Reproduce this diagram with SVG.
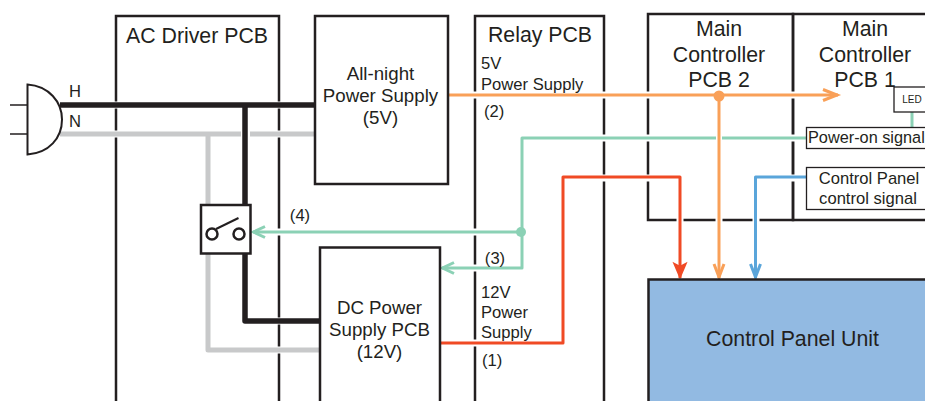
<svg xmlns="http://www.w3.org/2000/svg" width="925" height="401" viewBox="0 0 925 401">
<style>
text{font-family:"Liberation Sans",Arial,sans-serif;fill:#231f20;text-anchor:middle}
.t20{font-size:21.300px}.t18{font-size:18.700px}.t16{font-size:16.600px}
.s{text-anchor:start}
.pcb{fill:none;stroke:#231f20;stroke-width:2.500}
.box{fill:#fff;stroke:#231f20;stroke-width:2.500}
.thin{fill:#fff;stroke:#231f20;stroke-width:1.300}
.l{fill:none;stroke-linejoin:round}
.halo{fill:none;stroke:#fff;stroke-width:7}
</style>
<defs>
<marker id="ag" markerUnits="userSpaceOnUse" markerWidth="16" markerHeight="16" refX="13" refY="8" orient="auto" overflow="visible"><path d="M1 2.500L12.500 8L1 13.500" fill="none" stroke="#8bd1b5" stroke-width="3"/></marker>
<marker id="ao" markerUnits="userSpaceOnUse" markerWidth="20" markerHeight="16" refX="16" refY="8" orient="auto" overflow="visible"><path d="M1 2.500L15 8L1 13.500" fill="none" stroke="#f9a058" stroke-width="3"/></marker>
<marker id="ar" markerUnits="userSpaceOnUse" markerWidth="20" markerHeight="16" refX="15" refY="8" orient="auto" overflow="visible"><path d="M1 2.500L14 8L1 13.500L4 8Z" fill="#f04a25" stroke="#f04a25" stroke-width="2"/></marker>
<marker id="ao2" markerUnits="userSpaceOnUse" markerWidth="20" markerHeight="16" refX="15" refY="8" orient="auto" overflow="visible"><path d="M1 3L14 8L1 13" fill="none" stroke="#f9a058" stroke-width="3"/></marker>
<marker id="ab" markerUnits="userSpaceOnUse" markerWidth="20" markerHeight="16" refX="15" refY="8" orient="auto" overflow="visible"><path d="M1 3L14 8L1 13" fill="none" stroke="#5aa5da" stroke-width="3"/></marker>
</defs>

<g id="ac-driver-pcb"><path class="pcb" d="M116 401V16H279V401"/><text class="t20" x="197" y="43">AC Driver PCB</text></g>
<g id="relay-pcb"><path class="pcb" d="M475 401V16H604V401"/><text class="t20" x="540" y="42">Relay PCB</text></g>
<g id="main-controller-pcb-2"><rect class="pcb" x="648" y="14" width="145" height="206"/><text class="t20" x="719" y="36">Main</text><text class="t20" x="719" y="62">Controller</text><text class="t20" x="719" y="87">PCB 2</text></g>
<g id="main-controller-pcb-1"><path class="pcb" d="M925 14H793V220H925"/><text class="t20" x="865" y="36">Main</text><text class="t20" x="865" y="62">Controller</text><text class="t20" x="865" y="87">PCB 1</text></g>

<g id="connectors">
<path class="halo" d="M60 105H315M60 134H241M251 134H315M245 105V205M245 254V321H320M208 254V350H320"/>
<path class="l" stroke="#c8c9ca" stroke-width="5" d="M60 134H241M250 134H315"/>
<path class="l" stroke="#c8c9ca" stroke-width="5" d="M208 134V350H320"/>
<path class="l" stroke="#231f20" stroke-width="5.500" d="M60 105H315"/>
<path class="l" stroke="#231f20" stroke-width="5.500" d="M245 105V321H320"/>

<path class="halo" d="M448 95H830M719 96V270M807 138H725M713 138H522V268H445M521 232H252M441 343H563V178H680V270M807 178H756V270"/>
<path class="l" stroke="#8bd1b5" stroke-width="3" d="M912 112V127"/>
<path class="l" stroke="#8bd1b5" stroke-width="3" d="M807 138H522V268H442" marker-end="url(#ag)"/>
<path class="l" stroke="#8bd1b5" stroke-width="3" d="M522 232H253" marker-end="url(#ag)"/>
<circle cx="521" cy="232" r="5" fill="#8bd1b5"/>
<path class="l" stroke="#f04a25" stroke-width="3" d="M441 343H563V177H680V278" marker-end="url(#ar)"/>
<path class="l" stroke="#5aa5da" stroke-width="3" d="M807 177H755.500V278" marker-end="url(#ab)"/>
<path class="l" stroke="#fff" stroke-width="6" d="M719 128V148"/>
<path class="l" stroke="#f9a058" stroke-width="3" d="M719 96V278" marker-end="url(#ao2)"/>
<path class="l" stroke="#f9a058" stroke-width="3" d="M448 95H838" marker-end="url(#ao)"/>
<circle cx="719" cy="96" r="5.500" fill="#f9a058"/>
</g>

<g id="relay-labels"><text class="t16 s" x="481" y="69">5V</text><text class="t16 s" x="481" y="90">Power Supply</text><text class="t16 s" x="484" y="117">(2)</text>
<text class="t16 s" x="481" y="298">12V</text><text class="t16 s" x="481" y="318">Power</text><text class="t16 s" x="481" y="338">Supply</text><text class="t16 s" x="482" y="366">(1)</text></g>
<g id="plug"><path fill="none" stroke="#231f20" stroke-width="1.500" d="M10 105H27M10 134H27"/><path d="M27.500 84.500C49 86 62 102 62 119.500C62 138 49 153 27.500 154.500Z" fill="#fff" stroke="#231f20" stroke-width="2"/><text class="t16" x="75" y="97">H</text><text class="t16" x="75" y="127">N</text></g>
<g id="all-night-power-supply"><rect class="box" x="315" y="16" width="133" height="168"/><text class="t18" x="380.500" y="80">All-night</text><text class="t18" x="380.500" y="102">Power Supply</text><text class="t18" x="380.500" y="124">(5V)</text></g>
<g id="switch"><rect class="box" x="201" y="205" width="49.500" height="48.500"/><circle cx="212" cy="234" r="5.500" fill="none" stroke="#231f20" stroke-width="2.500"/><circle cx="239" cy="234" r="5.500" fill="none" stroke="#231f20" stroke-width="2.500"/><path d="M216 229L238.500 218" stroke="#231f20" stroke-width="2" fill="none"/></g>
<text class="t16" x="300" y="221">(4)</text><text class="t16" x="495" y="264">(3)</text>
<g id="dc-power-supply-pcb"><path class="box" d="M320 401V247.500H440V401"/><text class="t18" x="379.500" y="314">DC Power</text><text class="t18" x="379.500" y="336">Supply PCB</text><text class="t18" x="379.500" y="358">(12V)</text></g>
<g id="control-panel-unit"><path d="M648.500 403V279.500H927V403Z" fill="#92bae2" stroke="#231f20" stroke-width="2.500"/><text class="t20" x="792.500" y="346">Control Panel Unit</text></g>
<g id="led"><rect class="thin" x="894" y="87" width="35" height="25"/><text x="912" y="103" font-size="10">LED</text></g>
<g id="power-on-signal"><rect class="thin" x="806.500" y="127.500" width="125" height="21"/><text class="s" font-size="16.300" x="808" y="143">Power-on signal</text></g>
<g id="control-panel-control-signal"><rect class="thin" x="806.500" y="167.500" width="125" height="42"/><text class="t16" x="869" y="184">Control Panel</text><text class="t16" x="868" y="204">control signal</text></g>
</svg>
